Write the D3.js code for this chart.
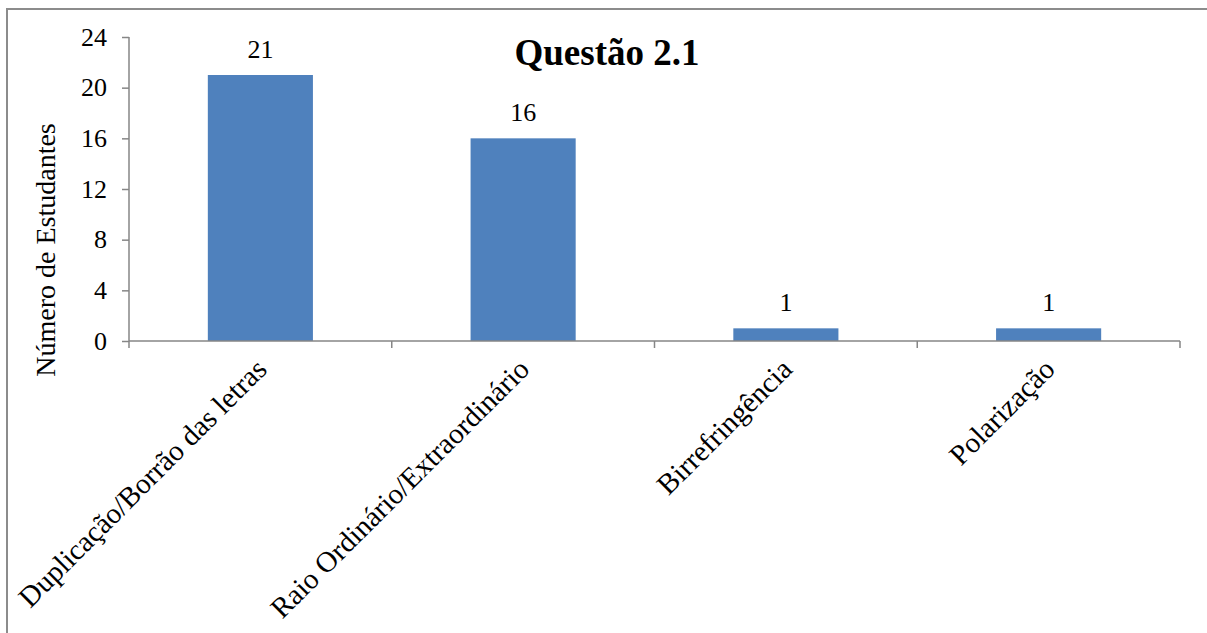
<!DOCTYPE html>
<html>
<head>
<meta charset="utf-8">
<script src="https://cdn.jsdelivr.net/npm/d3@7"></script>
<style>
  html, body { margin: 0; padding: 0; background: #fff; }
  svg text { font-family: 'Liberation Serif', 'Times New Roman', serif; }
</style>
</head>
<body>
<svg id="chart" width="1207" height="633"></svg>
<script>
// Respostas à Questão 2.1
const categories = [
  "Duplicação/Borrão das letras",
  "Raio Ordinário/Extraordinário",
  "Birrefringência",
  "Polarização"
];
const values = [21, 16, 1, 1];
const yTicks = [0, 4, 8, 12, 16, 20, 24];
const title = "Questão 2.1";
const yTitle = "Número de Estudantes";

const FONT = "'Liberation Serif', 'Times New Roman', serif";
const svg = d3.select("#chart").attr("font-family", FONT);
const W = 1207, H = 633;
const plot = { left: 129, right: 1180, top: 37, bottom: 341 };
const axisColor = "#868686";
const barColor = "#4F81BD";

svg.append("rect").attr("width", W).attr("height", H).attr("fill", "#fff");

// chart area frame (continues past the right and bottom edges)
svg.append("rect")
  .attr("x", 7).attr("y", 9)
  .attr("width", W + 20).attr("height", H + 20)
  .attr("fill", "none")
  .attr("stroke", "#8c8c8c")
  .attr("stroke-width", 2);

const x = d3.scaleBand().domain(categories).range([plot.left, plot.right]).padding(0);
const y = d3.scaleLinear().domain([0, 24]).range([plot.bottom, plot.top]);
const barW = x.bandwidth() * 0.4;

// bars
svg.append("g").selectAll("rect")
  .data(values)
  .join("rect")
  .attr("x", (d, i) => x(categories[i]) + (x.bandwidth() - barW) / 2)
  .attr("y", d => y(d))
  .attr("width", barW)
  .attr("height", d => y(0) - y(d))
  .attr("fill", barColor);

// y axis
const yAxis = svg.append("g")
  .attr("transform", `translate(${plot.left},0)`)
  .call(d3.axisLeft(y).tickValues(yTicks).tickSize(7).tickSizeOuter(0).tickPadding(15));
yAxis.attr("font-family", FONT).attr("font-size", 26);
yAxis.select(".domain").remove();
yAxis.selectAll(".tick line").attr("stroke", axisColor).attr("stroke-width", 1.5);
yAxis.selectAll(".tick text")
  .attr("fill", "#000")
  .attr("font-family", FONT)
  .attr("font-size", 26);
yAxis.append("line")
  .attr("x1", 0).attr("x2", 0)
  .attr("y1", plot.top).attr("y2", plot.bottom + 7)
  .attr("stroke", axisColor).attr("stroke-width", 1.5);

// x axis with ticks on category boundaries
const xAxis = svg.append("g");
xAxis.append("line")
  .attr("x1", plot.left).attr("x2", plot.right)
  .attr("y1", plot.bottom).attr("y2", plot.bottom)
  .attr("stroke", axisColor).attr("stroke-width", 1.5);
const bounds = categories.map(c => x(c)).concat([plot.right]);
xAxis.selectAll("line.tk")
  .data(bounds.slice(1))
  .join("line")
  .attr("class", "tk")
  .attr("x1", d => d).attr("x2", d => d)
  .attr("y1", plot.bottom).attr("y2", plot.bottom + 7)
  .attr("stroke", axisColor).attr("stroke-width", 1.5);

// category labels, rotated
svg.append("g").selectAll("text")
  .data(categories)
  .join("text")
  .attr("transform", d => `translate(${x(d) + x.bandwidth() / 2 + 8},${plot.bottom + 30}) rotate(-45)`)
  .attr("text-anchor", "end")
  .attr("font-family", FONT)
  .attr("font-size", 29)
  .attr("fill", "#000")
  .text(d => d);

// value labels
svg.append("g").selectAll("text")
  .data(values)
  .join("text")
  .attr("x", (d, i) => x(categories[i]) + x.bandwidth() / 2)
  .attr("y", d => y(d) - 17)
  .attr("text-anchor", "middle")
  .attr("font-family", FONT)
  .attr("font-size", 26)
  .attr("fill", "#000")
  .text(d => d);

// y axis title
svg.append("text")
  .attr("transform", `translate(55,250) rotate(-90)`)
  .attr("text-anchor", "middle")
  .attr("font-family", FONT)
  .attr("font-size", 28)
  .attr("fill", "#000")
  .text(yTitle);

// chart title
svg.append("text")
  .attr("x", 607).attr("y", 65)
  .attr("text-anchor", "middle")
  .attr("font-family", FONT)
  .attr("font-size", 37)
  .attr("font-weight", "bold")
  .attr("fill", "#000")
  .text(title);
</script>
</body>
</html>
